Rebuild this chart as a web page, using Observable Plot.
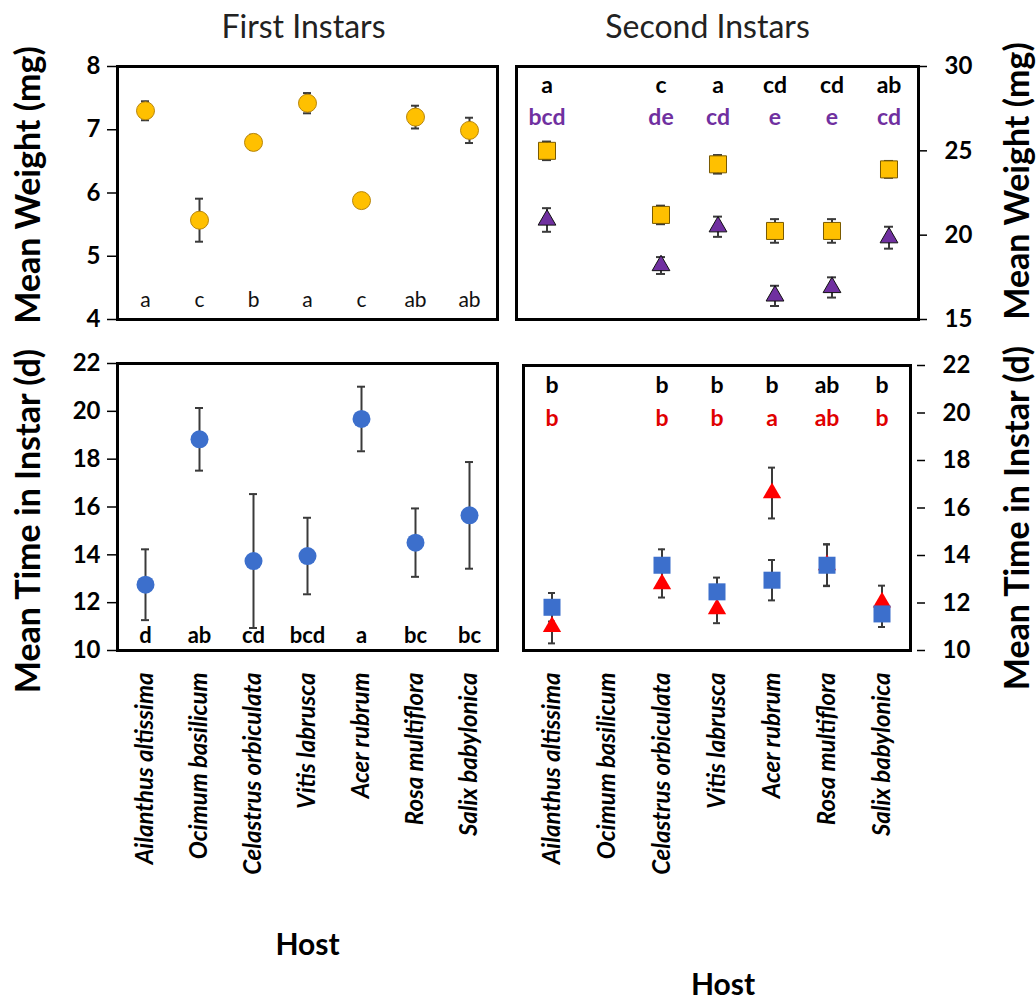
<!DOCTYPE html>
<html><head><meta charset="utf-8">
<script src="https://cdn.jsdelivr.net/npm/d3@7"></script>
<script src="https://cdn.jsdelivr.net/npm/@observablehq/plot@0.6"></script>
<style>
body{margin:0;background:#fff;}
#chart{position:relative;width:1036px;height:1000px;}
#chart .cell{position:absolute;}
#chart svg{overflow:visible;background:transparent;}
</style></head><body><div id="chart"></div>
<script>
// ---------- data ----------
const hosts = ["Ailanthus altissima","Ocimum basilicum","Celastrus orbiculata","Vitis labrusca","Acer rubrum","Rosa multiflora","Salix babylonica"];

// First instars: weight (mg)
const w1Mean = [7.30, 5.57, 6.80, 7.42, 5.88, 7.20, 6.99];
const w1Err  = [0.15, 0.34, 0.12, 0.16, 0.09, 0.18, 0.20];
const w1Letters = ["a","c","b","a","c","ab","ab"];

// First instars: time in instar (d)
const t1Mean = [12.75, 18.83, 13.74, 13.95, 19.68, 14.51, 15.65];
const t1Err  = [1.48, 1.31, 2.80, 1.60, 1.35, 1.43, 2.23];
const t1Letters = ["d","ab","cd","bcd","a","bc","bc"];

// Second instars: weight (mg), two series (squares = gold, triangles = purple)
const w2SqMean = [25.0, null, 21.2, 24.2, 20.25, 20.25, 23.9];
const w2SqErr  = [0.55, null, 0.55, 0.55, 0.70, 0.70, 0.50];
const w2TriMean = [20.9, null, 18.2, 20.5, 16.4, 16.9, 19.85];
const w2TriErr  = [0.70, null, 0.50, 0.60, 0.60, 0.60, 0.65];
const w2SqLetters  = ["a","","c","a","cd","cd","ab"];
const w2TriLetters = ["bcd","","de","cd","e","e","cd"];

// Second instars: time in instar (d), two series (squares = blue, triangles = red)
const t2SqMean = [11.82, null, 13.59, 12.47, 12.96, 13.59, 11.54];
const t2SqErr  = [0.60, null, 0.67, 0.60, 0.85, 0.88, 0.55];
const t2TriMean = [11.0, null, 12.8, 11.75, 16.63, 13.6, 12.03];
const t2TriErr  = [0.70, null, 0.57, 0.60, 1.07, 0.87, 0.70];
const t2SqLetters  = ["b","","b","b","b","ab","b"];
const t2TriLetters = ["b","","b","b","a","ab","b"];

const weight1Ticks = [4, 5, 6, 7, 8];
const weight2Ticks = [15, 20, 25, 30];
const timeTicks = [10, 12, 14, 16, 18, 20, 22];

// ---------- helpers ----------
const rows = (mean, err, letters) => hosts.map((h, i) => ({host: h, v: mean[i], e: err[i], letter: letters ? letters[i] : ""}));
const valid = arr => arr.filter(d => d.v != null);

const FONT = "Lato, 'Open Sans', sans-serif";
const ERR = "#3a3a3a";
const TICKFONT = 24;
const YTITLE = 34;
const XLABEL = 24;

function errorBars(data, capInset) {
  return [
    Plot.ruleX(data, {x: "host", y1: d => d.v - d.e, y2: d => d.v + d.e, stroke: ERR, strokeWidth: 2}),
    Plot.tickY(data, {x: "host", y: d => d.v + d.e, stroke: ERR, strokeWidth: 2, insetLeft: capInset, insetRight: capInset}),
    Plot.tickY(data, {x: "host", y: d => d.v - d.e, stroke: ERR, strokeWidth: 2, insetLeft: capInset, insetRight: capInset})
  ];
}
const title = (t, opts) => Plot.text([t], {text: d => d, textAnchor: "middle", lineAnchor: "middle", ...opts});

const chart = document.getElementById("chart");
function place(svg, left, top) {
  const d = document.createElement("div");
  d.className = "cell";
  d.style.left = left + "px";
  d.style.top = top + "px";
  d.appendChild(svg);
  chart.appendChild(d);
}

// ---------- A: first instars, weight ----------
{
  const data = rows(w1Mean, w1Err, w1Letters);
  const svg = Plot.plot({
    width: 510, height: 340,
    marginLeft: 117, marginRight: 13, marginTop: 66, marginBottom: 21,
    style: {fontFamily: FONT, color: "black"},
    x: {type: "band", domain: hosts, padding: 0, axis: null},
    y: {domain: [4, 8], axis: null},
    marks: [
      Plot.axisY({anchor: "left", ticks: weight1Ticks, tickFormat: d => String(d), tickSize: 10, tickPadding: 7, fontSize: TICKFONT, fontWeight: "bold", label: null, strokeWidth: 1.5}),
      ...errorBars(data, 23),
      Plot.dot(data, {x: "host", y: "v", r: 9, fill: "#FFC000", stroke: "#b8860b", strokeWidth: 1}),
      Plot.text(data, {x: "host", text: "letter", frameAnchor: "bottom", lineAnchor: "middle", dy: -19, fontSize: 21, fill: "#111"}),
      Plot.frame({stroke: "black", strokeWidth: 3}),
      title("First Instars", {frameAnchor: "top", dx: -4, dy: -39, fontSize: 32, fill: "#222"}),
      title("Mean Weight (mg)", {frameAnchor: "left", dx: -88, dy: -8, rotate: -90, fontSize: YTITLE, fontWeight: "bold"})
    ]
  });
  place(svg, 0, 0);
}

// ---------- B: second instars, weight ----------
{
  const sq = valid(rows(w2SqMean, w2SqErr, w2SqLetters));
  const tri = valid(rows(w2TriMean, w2TriErr, w2TriLetters));
  const svg = Plot.plot({
    width: 526, height: 340,
    marginLeft: 6, marginRight: 118, marginTop: 66, marginBottom: 21,
    style: {fontFamily: FONT, color: "black"},
    x: {type: "band", domain: hosts, padding: 0, axis: null},
    y: {domain: [15, 30], axis: null},
    marks: [
      Plot.axisY({anchor: "right", ticks: weight2Ticks, tickFormat: d => String(d), tickSize: 8, tickPadding: 18, fontSize: TICKFONT, fontWeight: "bold", label: null, strokeWidth: 1.5}),
      ...errorBars(tri, 24),
      ...errorBars(sq, 24),
      Plot.dot(tri, {x: "host", y: "v", symbol: "triangle", r: 6.6, fill: "#7030A0", stroke: "#111", strokeWidth: 1}),
      Plot.dot(sq, {x: "host", y: "v", symbol: "square", r: 9.6, fill: "#FFC000", stroke: "#7a5a00", strokeWidth: 1}),
      Plot.text(sq, {x: "host", text: "letter", frameAnchor: "top", lineAnchor: "middle", dy: 19, fontSize: 23, fontWeight: "bold", fill: "black"}),
      Plot.text(tri, {x: "host", text: "letter", frameAnchor: "top", lineAnchor: "middle", dy: 51, fontSize: 23, fontWeight: "bold", fill: "#7030A0"}),
      Plot.frame({stroke: "black", strokeWidth: 3}),
      title("Second Instars", {frameAnchor: "top", dx: -10, dy: -39, fontSize: 32, fill: "#222"}),
      title("Mean Weight (mg)", {frameAnchor: "right", dx: 100, dy: -12, rotate: -90, fontSize: YTITLE, fontWeight: "bold"})
    ]
  });
  place(svg, 510, 0);
}

// ---------- C: first instars, time ----------
{
  const data = rows(t1Mean, t1Err, t1Letters);
  const svg = Plot.plot({
    width: 510, height: 660,
    marginLeft: 117, marginRight: 13, marginTop: 23, marginBottom: 350,
    style: {fontFamily: FONT, color: "black"},
    x: {type: "band", domain: hosts, padding: 0},
    y: {domain: [10, 22], axis: null},
    marks: [
      Plot.axisY({anchor: "left", ticks: timeTicks, tickFormat: d => String(d), tickSize: 10, tickPadding: 7, fontSize: TICKFONT, fontWeight: "bold", label: null, strokeWidth: 1.5}),
      Plot.axisX({anchor: "bottom", tickSize: 0, tickRotate: -90, tickPadding: 22, fontSize: XLABEL, fontWeight: "bold", fontStyle: "italic", label: null}),
      ...errorBars(data, 23),
      Plot.dot(data, {x: "host", y: "v", r: 9, fill: "#3C6FCC"}),
      Plot.text(data, {x: "host", text: "letter", frameAnchor: "bottom", lineAnchor: "middle", dy: -15, fontSize: 22, fontWeight: "bold", fill: "black"}),
      Plot.frame({stroke: "black", strokeWidth: 3}),
      title("Host", {frameAnchor: "bottom", dy: 295, fontSize: 30, fontWeight: "bold"}),
      title("Mean Time in Instar (d)", {frameAnchor: "left", dx: -88, dy: 14, rotate: -90, fontSize: YTITLE, fontWeight: "bold"})
    ]
  });
  place(svg, 0, 340);
}

// ---------- D: second instars, time ----------
{
  const sq = valid(rows(t2SqMean, t2SqErr, t2SqLetters));
  const tri = valid(rows(t2TriMean, t2TriErr, t2TriLetters));
  const svg = Plot.plot({
    width: 526, height: 660,
    marginLeft: 13, marginRight: 120, marginTop: 25, marginBottom: 350,
    style: {fontFamily: FONT, color: "black"},
    x: {type: "band", domain: hosts, padding: 0, range: [13, 400]},
    y: {domain: [10, 22], axis: null},
    marks: [
      Plot.axisY({anchor: "right", ticks: timeTicks, tickFormat: d => String(d), tickSize: 8, tickPadding: 18, fontSize: TICKFONT, fontWeight: "bold", label: null, strokeWidth: 1.5}),
      Plot.axisX({anchor: "bottom", tickSize: 0, tickRotate: -90, tickPadding: 22, fontSize: XLABEL, fontWeight: "bold", fontStyle: "italic", label: null}),
      ...errorBars(tri, 24),
      ...errorBars(sq, 24),
      Plot.dot(tri, {x: "host", y: "v", symbol: "triangle", r: 6.8, fill: "#FF0000"}),
      Plot.dot(sq, {x: "host", y: "v", symbol: "square", r: 9.6, fill: "#3C6FCC"}),
      Plot.text(sq, {x: "host", text: "letter", frameAnchor: "top", lineAnchor: "middle", dy: 20, fontSize: 23, fontWeight: "bold", fill: "black"}),
      Plot.text(tri, {x: "host", text: "letter", frameAnchor: "top", lineAnchor: "middle", dy: 53, fontSize: 23, fontWeight: "bold", fill: "#E00000"}),
      Plot.frame({stroke: "black", strokeWidth: 3, insetRight: 6}),
      title("Host", {frameAnchor: "bottom", dx: 3, dy: 335, fontSize: 30, fontWeight: "bold"}),
      title("Mean Time in Instar (d)", {frameAnchor: "right", dx: 102, dy: 10, rotate: -90, fontSize: YTITLE, fontWeight: "bold"})
    ]
  });
  place(svg, 510, 340);
}
</script></body></html>
